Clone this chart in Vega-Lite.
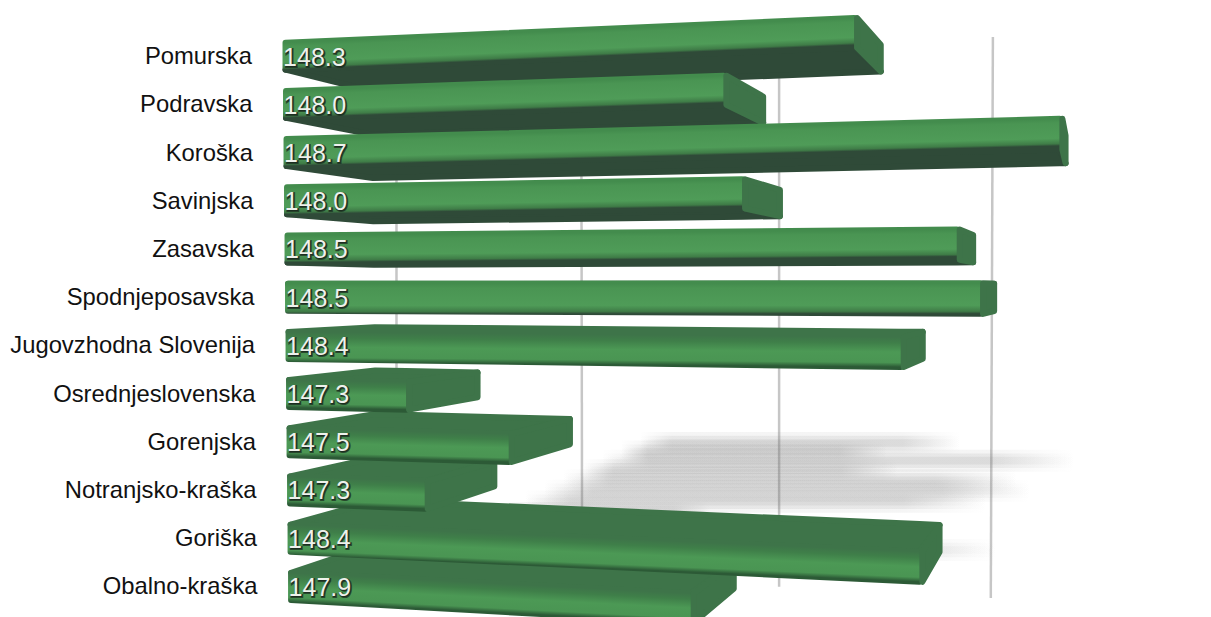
{
  "$schema": "https://vega.github.io/schema/vega-lite/v6.json",
  "autosize": "none",
  "width": 1211,
  "height": 617,
  "padding": 0,
  "background": "#ffffff",
  "config": {"view": {"stroke": null}},
  "datasets": {
    "regions": [
      {"region": "Pomurska", "rank": 0, "value": 148.26},
      {"region": "Obalno-kraška", "rank": 11, "value": 147.91},
      {"region": "Podravska", "rank": 1, "value": 147.98},
      {"region": "Goriška", "rank": 10, "value": 148.40},
      {"region": "Koroška", "rank": 2, "value": 148.70},
      {"region": "Notranjsko-kraška", "rank": 9, "value": 147.34},
      {"region": "Savinjska", "rank": 3, "value": 148.02},
      {"region": "Gorenjska", "rank": 8, "value": 147.52},
      {"region": "Zasavska", "rank": 4, "value": 148.48},
      {"region": "Osrednjeslovenska", "rank": 7, "value": 147.30},
      {"region": "Spodnjeposavska", "rank": 5, "value": 148.53},
      {"region": "Jugovzhodna Slovenija", "rank": 6, "value": 148.36}
    ],
    "gridlines": [
      {"at": 147.1, "atBase": 147.1, "from": 0.5, "to": 6.75},
      {"at": 147.54, "atBase": 147.542, "from": 0.5, "to": 10.5},
      {"at": 148.011, "atBase": 148.011, "from": 0.2, "to": 11.05},
      {"at": 148.52, "atBase": 148.515, "from": -0.36, "to": 11.28}
    ]
  },
  "layer": [
    {
      "data": {"name": "gridlines"},
      "mark": {"type": "rule", "color": "#c6c6c6", "strokeWidth": 2.5},
      "encoding": {
        "x": {"field": "at", "type": "quantitative", "axis": null, "scale": {"domain": [146.156, 149.0393], "nice": false, "zero": false}},
        "x2": {"field": "atBase"},
        "y": {"field": "from", "type": "quantitative", "axis": null, "scale": {"domain": [11.675, -1.1255], "nice": false, "zero": false}},
        "y2": {"field": "to"}
      }
    },
    {
      "data": {"name": "regions"},
      "transform": [
        {"calculate": "8.065+0.1743*datum.rank+0.00477*datum.rank*datum.rank", "as": "sy"},
        {"calculate": "146.156+(640-19.2*datum.rank)/420", "as": "sx"},
        {"calculate": "datum.value+0.38*(148.74-datum.value)", "as": "sx2"},
        {"calculate": "datum.sy-0.23", "as": "sa"},
        {"calculate": "datum.sy+0.23", "as": "sb"}
      ],
      "mark": {"type": "rect", "opacity": 0.07, "fill": {"gradient": "linear", "x1": 0, "y1": 0, "x2": 1, "y2": 0, "stops": [{"offset": 0, "color": "rgba(110,110,110,0)"}, {"offset": 0.1, "color": "rgba(110,110,110,1)"}, {"offset": 0.82, "color": "rgba(110,110,110,1)"}, {"offset": 1, "color": "rgba(110,110,110,0)"}]}},
      "encoding": {
        "x": {"field": "sx", "type": "quantitative"},
        "x2": {"field": "sx2"},
        "y": {"field": "sa", "type": "quantitative"},
        "y2": {"field": "sb"}
      }
    },
    {
      "data": {"name": "regions"},
      "transform": [
        {"calculate": "8.065+0.1743*datum.rank+0.00477*datum.rank*datum.rank", "as": "sy"},
        {"calculate": "146.156+(640-19.2*datum.rank)/420", "as": "sx"},
        {"calculate": "datum.value+0.38*(148.74-datum.value)", "as": "sx2"},
        {"calculate": "datum.sy-0.15", "as": "sa"},
        {"calculate": "datum.sy+0.15", "as": "sb"}
      ],
      "mark": {"type": "rect", "opacity": 0.1, "fill": {"gradient": "linear", "x1": 0, "y1": 0, "x2": 1, "y2": 0, "stops": [{"offset": 0, "color": "rgba(110,110,110,0)"}, {"offset": 0.1, "color": "rgba(110,110,110,1)"}, {"offset": 0.82, "color": "rgba(110,110,110,1)"}, {"offset": 1, "color": "rgba(110,110,110,0)"}]}},
      "encoding": {
        "x": {"field": "sx", "type": "quantitative"},
        "x2": {"field": "sx2"},
        "y": {"field": "sa", "type": "quantitative"},
        "y2": {"field": "sb"}
      }
    },
    {
      "data": {"name": "regions"},
      "transform": [
        {"calculate": "8.065+0.1743*datum.rank+0.00477*datum.rank*datum.rank", "as": "sy"},
        {"calculate": "146.156+(640-19.2*datum.rank)/420", "as": "sx"},
        {"calculate": "datum.value+0.38*(148.74-datum.value)", "as": "sx2"},
        {"calculate": "datum.sy-0.08", "as": "sa"},
        {"calculate": "datum.sy+0.08", "as": "sb"}
      ],
      "mark": {"type": "rect", "opacity": 0.1, "fill": {"gradient": "linear", "x1": 0, "y1": 0, "x2": 1, "y2": 0, "stops": [{"offset": 0, "color": "rgba(110,110,110,0)"}, {"offset": 0.1, "color": "rgba(110,110,110,1)"}, {"offset": 0.82, "color": "rgba(110,110,110,1)"}, {"offset": 1, "color": "rgba(110,110,110,0)"}]}},
      "encoding": {
        "x": {"field": "sx", "type": "quantitative"},
        "x2": {"field": "sx2"},
        "y": {"field": "sa", "type": "quantitative"},
        "y2": {"field": "sb"}
      }
    },
    {
      "data": {"name": "regions"},
      "transform": [
        {"calculate": "146.8288+0.0012*datum.rank+0.007", "as": "x0"},
        {"calculate": "(datum.value-0.1*148.894)/0.9", "as": "xF"},
        {"calculate": "datum.rank+0.04-0.28", "as": "tL"},
        {"calculate": "datum.rank+0.04+0.28", "as": "bL"},
        {"calculate": "1+(datum.xF-datum.x0)/13.276", "as": "p"},
        {"calculate": "4.787+(datum.tL-4.787)*datum.p", "as": "tF"},
        {"calculate": "4.787+(datum.bL-4.787)*datum.p", "as": "bF"},
        {"calculate": "datum.rank<4.787?datum.bL:datum.tL", "as": "nL"},
        {"calculate": "datum.rank<4.787?datum.bF:datum.tF", "as": "nF"},
        {"calculate": "datum.x0+0.1*(148.894-datum.x0)", "as": "xL"},
        {"calculate": "datum.nL+0.1*(4.787-datum.nL)", "as": "fL"},
        {"calculate": "datum.nF+0.1*(4.787-datum.nF)", "as": "fF"},
        {"calculate": "datum.tF+0.1*(4.787-datum.tF)", "as": "tB"},
        {"calculate": "datum.bF+0.1*(4.787-datum.bF)", "as": "bB"},
        {"calculate": "abs(datum.tF-datum.tL)/(max(datum.bL,datum.bF)-min(datum.tL,datum.tF))", "as": "a"},
        {"calculate": "1+datum.a*datum.a", "as": "n"},
        {"calculate": "[{face:'depth',x:datum.x0,y:datum.nL,y2:datum.nL},{face:'depth',x:datum.xL,y:datum.nL+(datum.nF-datum.nL)*(datum.xL-datum.x0)/(datum.xF-datum.x0),y2:datum.fL},{face:'depth',x:datum.xF,y:datum.nF,y2:datum.fL+(datum.fF-datum.fL)*(datum.xF-datum.xL)/(datum.value-datum.xL)},{face:'depth',x:datum.value-0.007,y:datum.fF,y2:datum.fF},{face:'light',x:datum.x0,y:datum.tL,y2:datum.bL},{face:'light',x:datum.xF,y:datum.tF,y2:datum.bF},{face:'cap',x:datum.xF+0.007,y:datum.tF,y2:datum.bF},{face:'cap',x:datum.value-0.007,y:datum.tB,y2:datum.bB}]", "as": "v"},
        {"flatten": ["v"]},
        {"calculate": "datum.v.x", "as": "vx"},
        {"calculate": "datum.v.y", "as": "vy"},
        {"calculate": "datum.v.y2", "as": "vy2"},
        {"calculate": "datum.region+'|'+datum.v.face", "as": "key"},
        {"calculate": "datum.v.face=='cap'?'#3e7449':datum.v.face=='depth'?(datum.rank<4.787?'#2f4a38':'#3e7449'):datum.tF<datum.tL?{gradient:'linear',x1:0,y1:datum.a,x2:datum.a*(1-datum.a)/datum.n,y2:datum.a+(1-datum.a)/datum.n,stops:[{offset:0,color:'#438c4d'},{offset:0.15,color:'#4a9553'},{offset:0.72,color:'#4f9c58'},{offset:0.92,color:'#3f7c47'},{offset:1,color:'#2f4a38'}]}:{gradient:'linear',x1:0,y1:0,x2:-datum.a*(1-datum.a)/datum.n,y2:(1-datum.a)/datum.n,stops:[{offset:0,color:'#3e7449'},{offset:0.2,color:'#3f7f49'},{offset:0.5,color:'#4c9955'},{offset:0.85,color:'#4a9553'},{offset:1,color:'#2c5a36'}]}", "as": "paint"}
      ],
      "mark": {"type": "area", "strokeWidth": 6, "strokeJoin": "round", "interpolate": "linear"},
      "encoding": {
        "x": {"field": "vx", "type": "quantitative"},
        "y": {"field": "vy", "type": "quantitative"},
        "y2": {"field": "vy2"},
        "detail": {"field": "key"},
        "color": {"field": "paint", "type": "nominal", "scale": null, "legend": null},
        "stroke": {"field": "paint", "type": "nominal", "scale": null, "legend": null}
      }
    },
    {
      "data": {"name": "regions"},
      "transform": [
        {"calculate": "146.756+0.0012*datum.rank", "as": "lx"},
        {"calculate": "datum.rank+0.06", "as": "ly"}
      ],
      "mark": {"type": "text", "align": "right", "baseline": "middle", "font": "Liberation Sans", "fontSize": 23.8, "fill": "#111111"},
      "encoding": {
        "x": {"field": "lx", "type": "quantitative"},
        "y": {"field": "ly", "type": "quantitative"},
        "text": {"field": "region"}
      }
    },
    {
      "data": {"name": "regions"},
      "transform": [
        {"calculate": "146.8288+0.0012*datum.rank", "as": "lx"},
        {"calculate": "datum.rank+0.06", "as": "ly"}
      ],
      "mark": {"type": "text", "align": "left", "baseline": "middle", "font": "Liberation Sans", "fontSize": 25, "dx": 1.5, "dy": 1.5, "fill": "#1c2e20", "stroke": "#1c2e20", "strokeWidth": 2, "strokeOpacity": 0.75},
      "encoding": {
        "x": {"field": "lx", "type": "quantitative"},
        "y": {"field": "ly", "type": "quantitative"},
        "text": {"field": "value", "type": "quantitative", "format": ".1f"}
      }
    },
    {
      "data": {"name": "regions"},
      "transform": [
        {"calculate": "146.8288+0.0012*datum.rank", "as": "lx"},
        {"calculate": "datum.rank+0.06", "as": "ly"}
      ],
      "mark": {"type": "text", "align": "left", "baseline": "middle", "font": "Liberation Sans", "fontSize": 25, "dx": 0.5, "dy": 0.5, "fill": "#eef2ec"},
      "encoding": {
        "x": {"field": "lx", "type": "quantitative"},
        "y": {"field": "ly", "type": "quantitative"},
        "text": {"field": "value", "type": "quantitative", "format": ".1f"}
      }
    }
  ]
}
